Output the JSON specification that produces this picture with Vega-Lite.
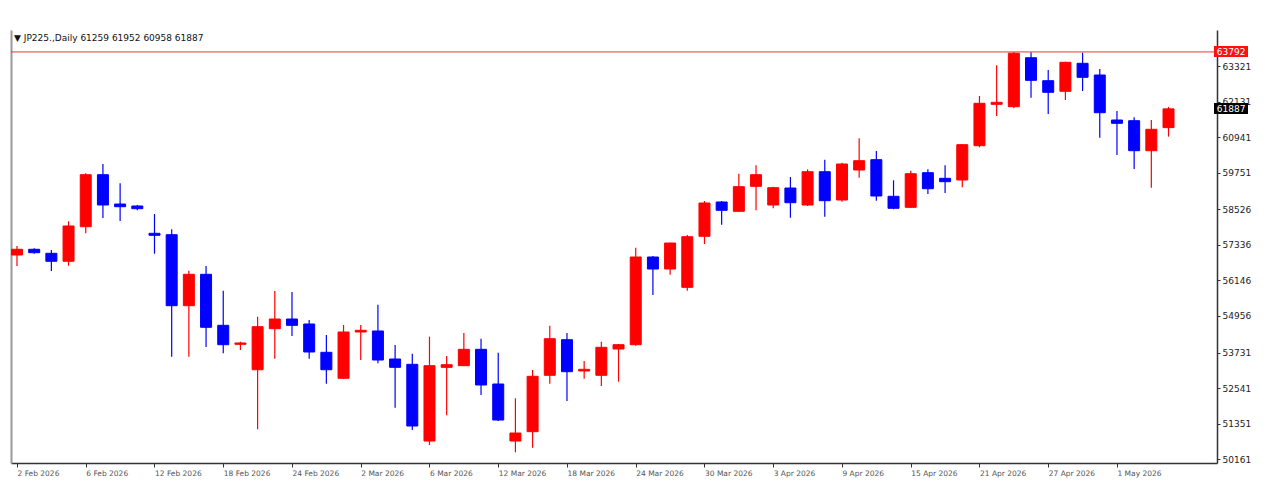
{
  "$schema": "https://vega.github.io/schema/vega-lite/v6.json",
  "width": 1206,
  "height": 433,
  "autosize": {"type": "none"},
  "padding": {"left": 11, "top": 30, "right": 57, "bottom": 37},
  "background": "white",
  "config": {"view": {"stroke": null}, "font": "DejaVu Sans"},
  "title": {
    "text": "▼ JP225.,Daily  61259 61952 60958 61887",
    "anchor": "start",
    "frame": "group",
    "orient": "top",
    "offset": -20,
    "baseline": "alphabetic",
    "fontSize": 9,
    "fontWeight": "normal",
    "font": "DejaVu Sans",
    "color": "#111111",
    "dx": 3
  },
  "data": {
    "values": [
      {"n": 0, "open": 56997, "high": 57298, "low": 56629, "close": 57188},
      {"n": 1, "open": 57188, "high": 57221, "low": 57041, "close": 57074},
      {"n": 2, "open": 57054, "high": 57164, "low": 56462, "close": 56787},
      {"n": 3, "open": 56787, "high": 58124, "low": 56639, "close": 57968},
      {"n": 4, "open": 57944, "high": 59731, "low": 57723, "close": 59684},
      {"n": 5, "open": 59684, "high": 60042, "low": 58235, "close": 58670},
      {"n": 6, "open": 58703, "high": 59396, "low": 58135, "close": 58613},
      {"n": 7, "open": 58637, "high": 58670, "low": 58493, "close": 58546},
      {"n": 8, "open": 57723, "high": 58369, "low": 57041, "close": 57656},
      {"n": 9, "open": 57676, "high": 57857, "low": 53594, "close": 55300},
      {"n": 10, "open": 55300, "high": 56471, "low": 53594, "close": 56351},
      {"n": 11, "open": 56351, "high": 56629, "low": 53919, "close": 54578},
      {"n": 12, "open": 54644, "high": 55802, "low": 53708, "close": 53995},
      {"n": 13, "open": 54009, "high": 54096, "low": 53818, "close": 54053},
      {"n": 14, "open": 53158, "high": 54932, "low": 51165, "close": 54598},
      {"n": 15, "open": 54531, "high": 55792, "low": 53527, "close": 54855},
      {"n": 16, "open": 54855, "high": 55759, "low": 54287, "close": 54644},
      {"n": 17, "open": 54688, "high": 54822, "low": 53527, "close": 53751},
      {"n": 18, "open": 53741, "high": 54320, "low": 52691, "close": 53158},
      {"n": 19, "open": 52872, "high": 54655, "low": 52850, "close": 54421},
      {"n": 20, "open": 54421, "high": 54655, "low": 53483, "close": 54477},
      {"n": 21, "open": 54454, "high": 55334, "low": 53373, "close": 53483},
      {"n": 22, "open": 53517, "high": 53985, "low": 51887, "close": 53239},
      {"n": 23, "open": 53339, "high": 53694, "low": 51141, "close": 51275},
      {"n": 24, "open": 50772, "high": 54263, "low": 50640, "close": 53293},
      {"n": 25, "open": 53239, "high": 53617, "low": 51633, "close": 53326},
      {"n": 26, "open": 53293, "high": 54387, "low": 53280, "close": 53841},
      {"n": 27, "open": 53841, "high": 54196, "low": 52313, "close": 52647},
      {"n": 28, "open": 52680, "high": 53728, "low": 51442, "close": 51475},
      {"n": 29, "open": 50772, "high": 52202, "low": 50395, "close": 51040},
      {"n": 30, "open": 51085, "high": 53149, "low": 50549, "close": 52938},
      {"n": 31, "open": 52972, "high": 54631, "low": 52691, "close": 54196},
      {"n": 32, "open": 54163, "high": 54387, "low": 52112, "close": 53092},
      {"n": 33, "open": 53116, "high": 53450, "low": 52858, "close": 53172},
      {"n": 34, "open": 52972, "high": 54096, "low": 52614, "close": 53908},
      {"n": 35, "open": 53852, "high": 54019, "low": 52757, "close": 53995},
      {"n": 36, "open": 53995, "high": 57241, "low": 53960, "close": 56930},
      {"n": 37, "open": 56930, "high": 56963, "low": 55658, "close": 56528},
      {"n": 38, "open": 56528, "high": 57410, "low": 56338, "close": 57398},
      {"n": 39, "open": 55916, "high": 57666, "low": 55802, "close": 57609},
      {"n": 40, "open": 57623, "high": 58804, "low": 57365, "close": 58737},
      {"n": 41, "open": 58771, "high": 58804, "low": 58011, "close": 58493},
      {"n": 42, "open": 58459, "high": 59717, "low": 58440, "close": 59283},
      {"n": 43, "open": 59296, "high": 59998, "low": 58493, "close": 59684},
      {"n": 44, "open": 58670, "high": 59283, "low": 58560, "close": 59249},
      {"n": 45, "open": 59239, "high": 59607, "low": 58245, "close": 58747},
      {"n": 46, "open": 58670, "high": 59864, "low": 58637, "close": 59784},
      {"n": 47, "open": 59784, "high": 60186, "low": 58278, "close": 58814},
      {"n": 48, "open": 58837, "high": 60085, "low": 58780, "close": 60042},
      {"n": 49, "open": 59841, "high": 60902, "low": 59584, "close": 60152},
      {"n": 50, "open": 60186, "high": 60477, "low": 58814, "close": 58971},
      {"n": 51, "open": 58961, "high": 59497, "low": 58526, "close": 58560},
      {"n": 52, "open": 58593, "high": 59818, "low": 58570, "close": 59717},
      {"n": 53, "open": 59751, "high": 59864, "low": 59038, "close": 59215},
      {"n": 54, "open": 59563, "high": 59998, "low": 59072, "close": 59450},
      {"n": 55, "open": 59507, "high": 60700, "low": 59262, "close": 60688},
      {"n": 56, "open": 60654, "high": 62317, "low": 60601, "close": 62073},
      {"n": 57, "open": 62039, "high": 63344, "low": 61648, "close": 62106},
      {"n": 58, "open": 61959, "high": 63792, "low": 61906, "close": 63750},
      {"n": 59, "open": 63598, "high": 63780, "low": 62260, "close": 62842},
      {"n": 60, "open": 62829, "high": 63187, "low": 61715, "close": 62441},
      {"n": 61, "open": 62475, "high": 63460, "low": 62183, "close": 63445},
      {"n": 62, "open": 63411, "high": 63766, "low": 62485, "close": 62943},
      {"n": 63, "open": 63020, "high": 63221, "low": 60922, "close": 61758},
      {"n": 64, "open": 61514, "high": 61815, "low": 60343, "close": 61404},
      {"n": 65, "open": 61491, "high": 61604, "low": 59875, "close": 60487},
      {"n": 66, "open": 60487, "high": 61514, "low": 59249, "close": 61203},
      {"n": 67, "open": 61259, "high": 61952, "low": 60958, "close": 61887}
    ]
  },
  "resolve": {"axis": {"y": "independent"}},
  "layer": [
    {
      "mark": {"type": "rule", "strokeWidth": 1.2, "clip": true},
      "encoding": {
        "x": {
          "field": "n",
          "type": "quantitative",
          "scale": {"domain": [-0.058, 69.53], "nice": false, "zero": false},
          "axis": {
            "title": null,
            "orient": "bottom",
            "values": [0, 4, 8, 12, 16, 20, 24, 28, 32, 36, 40, 44, 48, 52, 56, 60, 64],
            "labelExpr": "['2 Feb 2026','6 Feb 2026','12 Feb 2026','18 Feb 2026','24 Feb 2026','2 Mar 2026','6 Mar 2026','12 Mar 2026','18 Mar 2026','24 Mar 2026','30 Mar 2026','3 Apr 2026','9 Apr 2026','15 Apr 2026','21 Apr 2026','27 Apr 2026','1 May 2026'][datum.value / 4]",
            "grid": false,
            "domainColor": "#333333",
            "domainWidth": 1.5,
            "tickColor": "#333333",
            "tickSize": 4,
            "labelAlign": "left",
            "labelBaseline": "top",
            "labelFontSize": 7.5,
            "labelColor": "#555555",
            "labelPadding": 2,
            "labelOverlap": false,
            "labelFlush": false,
            "labelBound": false
          }
        },
        "y": {
          "field": "low",
          "type": "quantitative",
          "scale": {"domain": [50037, 64526], "nice": false, "zero": false},
          "axis": {
            "title": null,
            "orient": "right",
            "values": [50161, 51351, 52541, 53731, 54956, 56146, 57336, 58526, 59751, 60941, 62131, 63321],
            "format": "d",
            "grid": false,
            "domainColor": "#333333",
            "domainWidth": 1.5,
            "tickColor": "#333333",
            "tickSize": 3,
            "labelPadding": 2,
            "labelFontSize": 9,
            "labelFont": "DejaVu Sans",
            "labelColor": "#222222"
          }
        },
        "y2": {"field": "high"},
        "color": {"condition": {"test": "datum.close > datum.open", "value": "#ff0000"}, "value": "#0000ff"}
      }
    },
    {
      "mark": {"type": "bar", "width": 11, "strokeWidth": 1, "clip": true},
      "encoding": {
        "x": {"field": "n", "type": "quantitative"},
        "y": {
          "field": "open",
          "type": "quantitative",
          "axis": {
            "title": null,
            "orient": "left",
            "labels": false,
            "ticks": false,
            "grid": false,
            "domainColor": "#999999",
            "domainWidth": 2
          }
        },
        "y2": {"field": "close"},
        "fill": {"condition": {"test": "datum.close > datum.open", "value": "#ff0000"}, "value": "#0000ff"},
        "stroke": {"condition": {"test": "datum.close > datum.open", "value": "#ff0000"}, "value": "#0000ff"}
      }
    },
    {
      "data": {"values": [{"level": 63792}]},
      "mark": {"type": "rule", "color": "#ee3333", "strokeWidth": 1},
      "encoding": {
        "y": {"field": "level", "type": "quantitative", "axis": null}
      }
    },
    {
      "mark": {"type": "rect", "color": "#ff1010", "clip": false},
      "encoding": {
        "x": {"datum": 69.68, "type": "quantitative"},
        "x2": {"datum": 71.6},
        "y": {"datum": 63962, "type": "quantitative", "axis": null},
        "y2": {"datum": 63622}
      }
    },
    {
      "mark": {"type": "rect", "color": "#000000", "clip": false},
      "encoding": {
        "x": {"datum": 69.68, "type": "quantitative"},
        "x2": {"datum": 71.6},
        "y": {"datum": 62057, "type": "quantitative", "axis": null},
        "y2": {"datum": 61717}
      }
    },
    {
      "data": {"values": [{"price": 63792}, {"price": 61887}]},
      "mark": {"type": "text", "color": "white", "fontSize": 9, "font": "DejaVu Sans", "align": "center", "baseline": "middle", "clip": false},
      "encoding": {
        "x": {"datum": 70.64, "type": "quantitative"},
        "y": {"field": "price", "type": "quantitative", "axis": null},
        "text": {"field": "price", "type": "quantitative", "format": "d"}
      }
    }
  ]
}
